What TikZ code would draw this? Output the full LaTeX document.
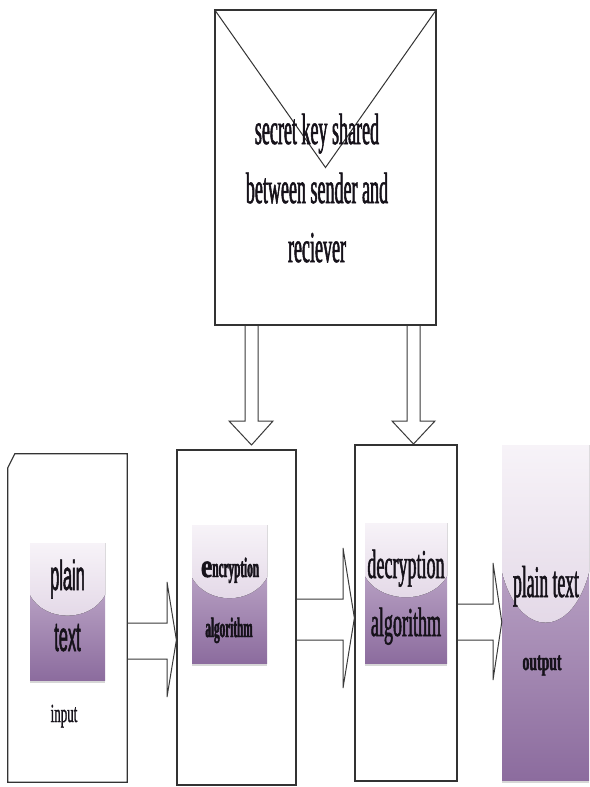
\documentclass[tikz,border=0pt]{standalone}
\usepackage{fontspec}
\usetikzlibrary{calc,shadows}
\setmainfont{Liberation Serif}
% narrow faces for the tall, condensed lettering
\newfontfamily\keyfont[FakeStretch=0.41, FakeBold=1.2]{Liberation Serif}
\newfontfamily\labelsans[FakeStretch=0.39, FakeBold=1.2]{Liberation Sans}
\newfontfamily\encfont[FakeStretch=0.40, FakeBold=1.6]{Liberation Serif Bold}
\newfontfamily\capefont[FakeStretch=0.78, FakeBold=1.6]{Liberation Serif Bold}
\newfontfamily\decfont[FakeStretch=0.44, FakeBold=1.2]{Liberation Serif}
\newfontfamily\outfont[FakeStretch=0.39, FakeBold=1.2]{Liberation Serif}
\newfontfamily\outsmall[FakeStretch=0.53, FakeBold=1.6]{Liberation Serif Bold}
\newfontfamily\insmall[FakeStretch=0.5, FakeBold=1]{Liberation Serif}

\definecolor{linegray}{HTML}{333333}
\definecolor{arrowgray}{HTML}{3A3A3A}
\definecolor{gtop}{HTML}{F7F3F8}
\definecolor{gglow}{HTML}{D3C2D9}
\definecolor{gmid}{HTML}{D0BED8}
\definecolor{gbot}{HTML}{8C6C9E}
\definecolor{inkc}{HTML}{16121A}

\tikzset{
  frame/.style={draw=linegray, line width=1.2pt},
  barrow/.style={draw=arrowgray, line width=1pt, line join=miter},
  panel/.style={rectangle, inner sep=0pt, top color=gmid, bottom color=gbot,
    drop shadow={shadow xshift=0pt, shadow yshift=-3pt, fill=black!20, opacity=0.8},
    path picture={
      \fill[top color=gtop, bottom color=gglow]
        let \p1=(path picture bounding box.north west),
            \p2=(path picture bounding box.south east) in
        (\x1,\y1) -- (\x1,{\y1+0.38*(\y2-\y1)})
        .. controls ({\x1+0.2*(\x2-\x1)},{\y1+0.58*(\y2-\y1)})
                and ({\x2-0.2*(\x2-\x1)},{\y1+0.58*(\y2-\y1)})
        .. (\x2,{\y1+0.38*(\y2-\y1)}) -- (\x2,\y1) -- cycle;
    }},
  word/.style={anchor=base, inner sep=0pt, text=inkc},
}

\begin{document}
\begin{tikzpicture}[x=1pt, y=-1pt]
  \fill[white] (0,0) rectangle (589,787);
  \useasboundingbox (0,0) rectangle (589,787);

  % shared key box with its envelope flap
  \node[frame, rectangle, minimum width=221pt, minimum height=315pt] (key) at (325.5,167.5) {};
  \draw[draw=linegray, line width=1pt] (key.north west) -- (key.center) -- (key.north east);
  \node[inner sep=0pt, align=center, text=inkc,
        font=\keyfont\fontsize{44}{59}\selectfont] (keytext) at (317,188)
        {secret key shared\\between sender and\\reciever};

  % input frame with clipped corner
  \node[rectangle, minimum width=119pt, minimum height=328pt] (inp) at (67.5,618) {};
  \draw[frame] (inp.south west) -- ([yshift=-14pt]inp.north west)
    -- ([xshift=7pt]inp.north west) -- (inp.north east) -- (inp.south east) -- cycle;

  % algorithm frames
  \node[frame, rectangle, minimum width=119pt, minimum height=335pt] (enc) at (236.5,617.5) {};
  \node[frame, rectangle, minimum width=102pt, minimum height=336pt] (dec) at (406,613) {};

  % shaded labels
  \node[panel, minimum width=75pt, minimum height=137pt] (inbox) at (67.5,611.5) {};
  \node[panel, minimum width=75pt, minimum height=138pt] (encbox) at (229.5,594) {};
  \node[panel, minimum width=82pt, minimum height=140pt] (decbox) at (406,593) {};
  \node[panel, minimum width=87pt, minimum height=335pt] (out) at (545.5,612.5) {};

  % texts
  \node[word, font=\labelsans\fontsize{42}{42}\selectfont] (intxt1) at (67.5,590) {plain};
  \node[word, font=\labelsans\fontsize{42}{42}\selectfont] (intxt2) at (67.5,651) {text};
  \node[word, font=\insmall\fontsize{26}{26}\selectfont] (inlab) at (64,722) {input};

  \node[word, font=\encfont\fontsize{28}{28}\selectfont] (enct1) at (230,577)
    {{\capefont\fontsize{33}{33}\selectfont e}ncryption};
  \node[word, font=\encfont\fontsize{28}{28}\selectfont] (enct2) at (229,637) {algorithm};

  \node[word, font=\decfont\fontsize{41}{41}\selectfont] (dect1) at (406,578) {decryption};
  \node[word, font=\decfont\fontsize{41}{41}\selectfont] (dect2) at (406,636) {algorithm};

  \node[word, font=\outfont\fontsize{45}{45}\selectfont] (outt1) at (546,597) {plain text};
  \node[word, font=\outsmall\fontsize{26}{26}\selectfont] (outt2) at (542,670) {output};

  % hollow block arrows from the key box
  \draw[barrow] (key.south -| 245,0) -- (245,421) -- (229,421) -- (251.5,445)
    -- (273,421) -- (258,421) -- (key.south -| 258,0);
  \draw[barrow] (key.south -| 407,0) -- (407,421) -- (392,421) -- (413.5,444)
    -- (435,421) -- (420,421) -- (key.south -| 420,0);

  % hollow block arrows along the pipeline
  \draw[barrow] (inp.east |- 0,623) -- (167,623) -- (167,582) -- (enc.west |- 0,640)
    -- (167,697) -- (167,659) -- (inp.east |- 0,659);
  \draw[barrow] (enc.east |- 0,599) -- (343,599) -- (343,548) -- (dec.west |- 0,618)
    -- (343,688) -- (343,640) -- (enc.east |- 0,640);
  \draw[barrow] (dec.east |- 0,604) -- (493,604) -- (493,563) -- (out.west |- 0,622)
    -- (493,680) -- (493,640) -- (dec.east |- 0,640);
\end{tikzpicture}
\end{document}
